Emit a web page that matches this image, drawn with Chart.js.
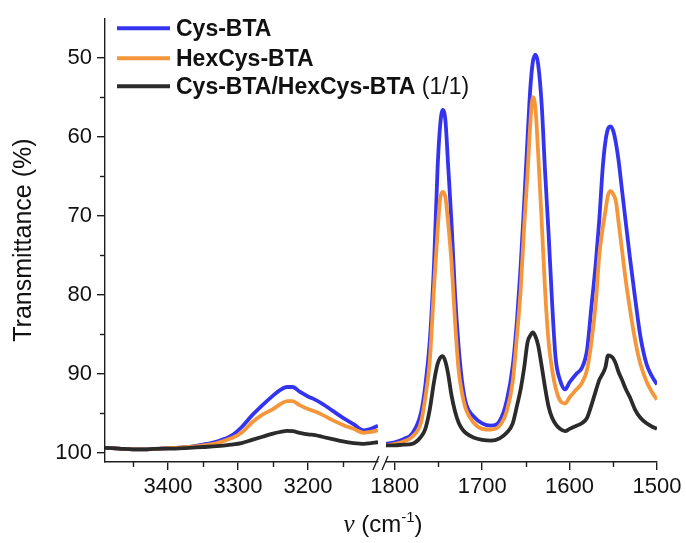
<!DOCTYPE html>
<html>
<head>
<meta charset="utf-8">
<script src="https://cdn.jsdelivr.net/npm/chart.js@4.4.1/dist/chart.umd.min.js"></script>
<style>
html,body{margin:0;padding:0;background:#fff;}
#wrap{width:686px;height:543px;position:relative;}
</style>
</head>
<body>
<div id="wrap"><canvas id="c" width="686" height="543"></canvas></div>
<script>
// ---- Data ----
const seriesNames = ['Cys-BTA', 'HexCys-BTA', 'Cys-BTA/HexCys-BTA'];
const seriesColors = ['#3434f0', '#f5963a', '#2b2b2b'];

// high-wavenumber segment (cm-1)
const highX = [3490,3470,3450,3430,3410,3390,3370,3350,3330,3310,3295,3280,3265,3250,3240,3230,3222,3212,3200,3190,3180,3165,3150,3135,3120,3110,3100];
const highCys = [99.4,99.5,99.6,99.6,99.5,99.4,99.3,99.0,98.6,97.9,96.8,95.3,94.0,92.8,92.1,91.7,91.7,92.3,92.9,93.3,93.8,94.7,95.6,96.4,97.2,97.0,96.6];
const highHex = [99.4,99.5,99.6,99.6,99.5,99.4,99.3,99.1,98.8,98.2,97.5,96.2,95.2,94.5,93.9,93.5,93.5,94.0,94.5,94.8,95.2,95.9,96.5,97.0,97.5,97.4,97.2];
const highMix = [99.4,99.5,99.6,99.6,99.5,99.5,99.4,99.3,99.2,99.0,98.8,98.4,98.0,97.6,97.4,97.25,97.3,97.5,97.7,97.8,98.0,98.3,98.6,98.8,98.9,98.8,98.7];

// low-wavenumber segment (cm-1)
const lowX = [1810,1800,1790,1780,1770,1765,1760,1755,1751,1748,1745,1742,1739,1735,1731,1727,1723,1718,1710,1700,1690,1680,1672,1665,1660,1656,1652,1648,1645,1642,1639,1636,1632,1628,1624,1620,1616,1611,1605,1600,1592,1586,1580,1575,1570,1566,1562,1559,1556,1553,1550,1547,1544,1540,1536,1531,1525,1519,1512,1506,1500];
const lowCys = [98.9,98.7,98.3,97.6,95.0,91.5,86.0,76.0,64.0,58.5,56.6,58.0,63.5,71.0,80.0,86.5,91.0,94.0,95.4,96.3,96.6,96.0,93.5,89.0,83.0,76.5,68.5,60.0,54.0,50.5,49.6,50.8,55.8,64.5,72.3,81.0,88.0,90.8,92.0,91.1,90.0,89.3,87.0,81.5,76.0,70.5,63.8,60.6,59.0,58.7,59.3,60.8,63.0,66.8,70.6,75.3,80.5,85.3,88.8,90.3,91.4];
const lowHex = [99.1,98.9,98.6,98.0,96.2,93.0,88.5,79.0,72.0,67.8,67.0,67.7,70.8,76.0,83.5,89.5,92.5,94.7,96.2,97.0,97.1,96.6,94.8,91.0,85.0,79.5,71.5,64.5,58.5,55.0,56.5,62.0,70.5,79.5,86.0,89.5,91.8,93.4,93.8,93.0,92.0,91.2,89.5,86.0,81.0,75.0,71.5,69.4,67.4,66.9,67.3,68.2,70.8,74.4,78.0,81.8,85.8,88.8,91.0,92.3,93.3];
const lowMix = [99.1,99.1,99.0,98.9,98.0,97.0,94.6,91.0,88.8,88.0,87.8,88.5,90.0,92.8,94.8,96.2,97.0,97.6,98.1,98.4,98.5,98.2,97.5,96.3,94.0,92.0,89.3,86.0,85.2,84.8,85.3,86.4,89.0,91.8,94.2,95.6,96.4,97.0,97.3,97.0,96.6,96.3,95.6,94.0,92.2,90.8,90.0,89.2,87.7,87.8,88.1,88.8,89.8,90.8,91.9,93.0,94.6,95.6,96.3,96.7,97.0];

// axis ticks
const yMajor = [50,60,70,80,90,100];
const yMinor = [55,65,75,85,95];
const highMajor = [3400,3300,3200];
const highMinor = [3450,3350,3250,3150];
const lowMajor = [1800,1700,1600,1500];
const lowMinor = [1750,1650,1550];

// ---- Build datasets ----
function pts(xs, ys){ return xs.map((x,i)=>({x:x, y:ys[i]})); }
const highSets = [highCys, highHex, highMix];
const lowSets = [lowCys, lowHex, lowMix];
const datasets = [];
[0,1,2].forEach(i=>{
  datasets.push({label: seriesNames[i], data: pts(highX, highSets[i]), xAxisID:'xL', yAxisID:'y',
    borderColor: seriesColors[i], borderWidth: 3.8, pointRadius:0, fill:false, cubicInterpolationMode:'monotone'});
  datasets.push({label: seriesNames[i], data: pts(lowX, lowSets[i]), xAxisID:'xR', yAxisID:'y',
    borderColor: seriesColors[i], borderWidth: 3.8, pointRadius:0, fill:false, cubicInterpolationMode:'monotone'});
});
// blue drawn on top of orange on top of black
datasets.reverse();

const AX = '#1e1e1e';
const FONT = "'Liberation Sans', Arial, sans-serif";

const extras = {
  id: 'extras',
  afterDraw(chart){
    const ctx = chart.ctx;
    const y = chart.scales.y, xL = chart.scales.xL, xR = chart.scales.xR;
    const ca = chart.chartArea;
    ctx.save();
    ctx.strokeStyle = AX; ctx.lineWidth = 1.4;
    // minor ticks
    yMinor.forEach(v=>{ const p=Math.round(y.getPixelForValue(v))+0.5; ctx.beginPath(); ctx.moveTo(y.right-5,p); ctx.lineTo(y.right,p); ctx.stroke(); });
    highMinor.forEach(v=>{ const p=Math.round(xL.getPixelForValue(v))+0.5; ctx.beginPath(); ctx.moveTo(p,xL.top); ctx.lineTo(p,xL.top+5); ctx.stroke(); });
    lowMinor.forEach(v=>{ const p=Math.round(xR.getPixelForValue(v))+0.5; ctx.beginPath(); ctx.moveTo(p,xR.top); ctx.lineTo(p,xR.top+5); ctx.stroke(); });
    // axis break marks
    const by = xL.top;
    ctx.lineWidth = 1.3;
    const b1 = xL.right - 2, b2 = xR.left - 1;
    [b1, b2].forEach(bx=>{ ctx.beginPath(); ctx.moveTo(bx-3, by+8); ctx.lineTo(bx+3, by-6); ctx.stroke(); });
    // legend
    const lx0 = ca.left + 12, lx1 = ca.left + 65, tx = ca.left + 71;
    const rows = [ca.top + 10, ca.top + 40, ca.top + 68];
    ctx.textBaseline = 'middle';
    rows.forEach((ry,i)=>{
      ctx.strokeStyle = seriesColors[i]; ctx.lineWidth = 4;
      ctx.beginPath(); ctx.moveTo(lx0, ry); ctx.lineTo(lx1, ry); ctx.stroke();
      ctx.fillStyle = '#111';
      ctx.font = 'bold 23px ' + FONT;
      ctx.fillText(seriesNames[i], tx, ry+1);
      if (i===2){
        const w = ctx.measureText(seriesNames[i]).width;
        ctx.font = '23px ' + FONT;
        ctx.fillText(' (1/1)', tx + w, ry+1);
      }
    });
    // x axis title: ν (cm-1)
    ctx.fillStyle = '#111';
    ctx.textBaseline = 'alphabetic';
    const f1 = "italic 25px 'Liberation Serif', serif";
    const f2 = '24px ' + FONT;
    const f3 = '15px ' + FONT;
    ctx.font = f1; const wNu = ctx.measureText('ν').width;
    ctx.font = f2; const wA = ctx.measureText(' (cm').width;
    ctx.font = f3; const wS = ctx.measureText('-1').width;
    ctx.font = f2; const wB = ctx.measureText(')').width;
    const total = wNu + wA + wS + wB;
    let cx = (ca.left + ca.right)/2 - total/2 + 2;
    const base = 532;
    ctx.font = f1; ctx.fillText('ν', cx, base); cx += wNu;
    ctx.font = f2; ctx.fillText(' (cm', cx, base); cx += wA;
    ctx.font = f3; ctx.fillText('-1', cx, base - 10); cx += wS;
    ctx.font = f2; ctx.fillText(')', cx, base);
    ctx.restore();
  }
};

const tickFont = {family: FONT, size: 22};
const plain = v => String(v);

new Chart(document.getElementById('c'), {
  type: 'line',
  data: { datasets },
  plugins: [extras],
  options: {
    responsive: false,
    animation: false,
    layout: { padding: {left: 0, right: 29, top: 15, bottom: 0} },
    plugins: { legend: {display:false}, tooltip:{enabled:false} },
    scales: {
      xL: {
        type:'linear', position:'bottom', stack:'x', stackWeight: 273,
        min: 3100, max: 3490, reverse: true,
        afterBuildTicks: s => { s.ticks = highMajor.map(v=>({value:v})); },
        afterFit: s => { s.height = 81; },
        ticks: { font: tickFont, color:'#111', padding: 4, maxRotation:0, autoSkip:false, callback: plain },
        grid: { display:true, drawOnChartArea:false, drawTicks:true, tickLength:8, color: AX, lineWidth:1.4 },
        border: { display:true, color: AX, width:1.4 }
      },
      xGap: {
        type:'linear', position:'bottom', stack:'x', stackWeight: 8,
        min:0, max:1,
        afterFit: s => { s.height = 81; },
        ticks: { display:false },
        grid: { display:false },
        border: { display:false }
      },
      xR: {
        type:'linear', position:'bottom', stack:'x', stackWeight: 271,
        min: 1500, max: 1810, reverse: true,
        afterBuildTicks: s => { s.ticks = lowMajor.map(v=>({value:v})); },
        afterFit: s => { s.height = 81; },
        ticks: { font: tickFont, color:'#111', padding: 4, maxRotation:0, autoSkip:false, callback: plain },
        grid: { display:true, drawOnChartArea:false, drawTicks:true, tickLength:8, color: AX, lineWidth:1.4 },
        border: { display:true, color: AX, width:1.4 }
      },
      y: {
        type:'linear', position:'left', min: 45, max: 101.2, reverse: true,
        afterBuildTicks: s => { s.ticks = yMajor.map(v=>({value:v})); },
        afterFit: s => { s.width = 105; },
        ticks: { font: tickFont, color:'#111', padding: 5, callback: plain },
        grid: { display:true, drawOnChartArea:false, drawTicks:true, tickLength:8, color: AX, lineWidth:1.4 },
        border: { display:true, color: AX, width:1.4 },
        title: { display:true, text:'Transmittance (%)', font:{family: FONT, size: 25}, color:'#111', padding:{top:9, bottom:0} }
      }
    }
  }
});
</script>
</body>
</html>
